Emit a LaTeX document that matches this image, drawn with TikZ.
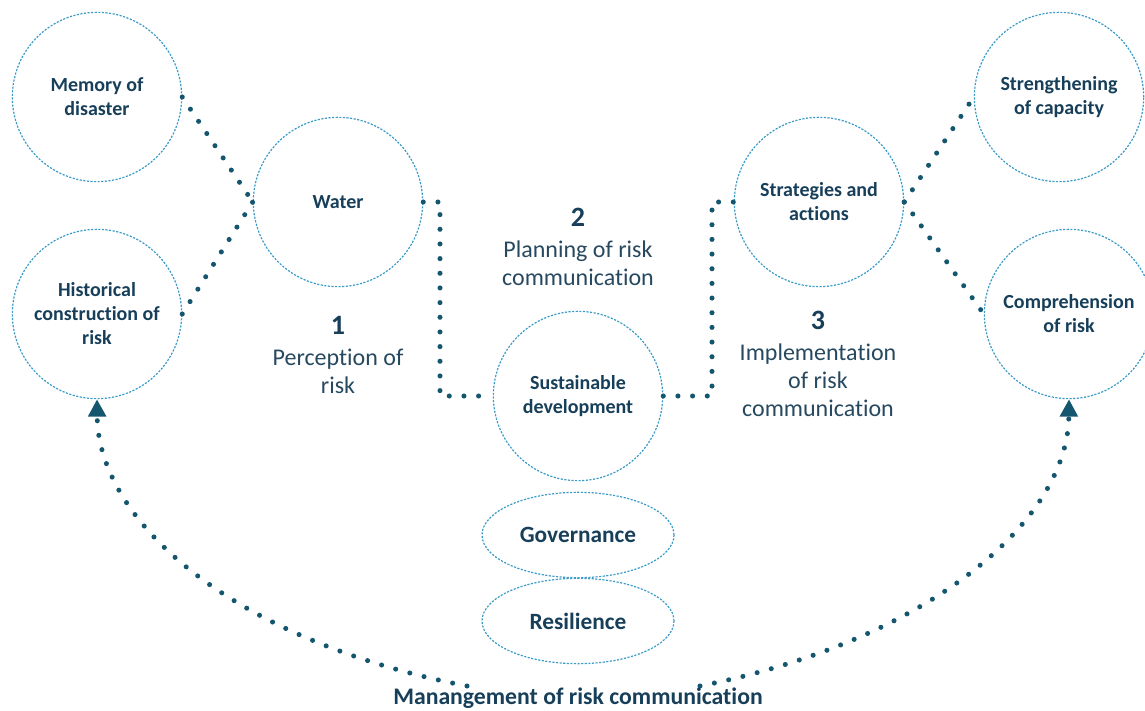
\documentclass[tikz,border=0pt]{standalone}
\usepackage{fontspec}
\setmainfont{Carlito}[Ligatures=NoCommon]
\usetikzlibrary{shapes.geometric,arrows.meta}
\definecolor{txt}{HTML}{173F5A}
\definecolor{dotc}{HTML}{15566F}
\definecolor{ring}{HTML}{3A9BC8}
\tikzset{
  circ/.style={circle, draw=ring, line width=0.9pt, dash pattern=on 1.6pt off 1.1pt,
    minimum size=127pt, inner sep=0pt, align=center, text=txt,
    font=\fontsize{15}{18}\selectfont\bfseries},
  ell/.style={ellipse, draw=ring, line width=0.9pt, dash pattern=on 1.6pt off 1.1pt,
    minimum width=144pt, minimum height=64pt, inner sep=0pt, text=txt,
    font=\fontsize{17.5}{20}\selectfont\bfseries},
  dotline/.style={draw=dotc, line width=3.8pt, line cap=round, dash pattern=on 0pt off 11pt},
  numlab/.style={text=txt, font=\fontsize{21}{24}\selectfont\bfseries},
  steplab/.style={text=txt!85!gray, align=center, font=\fontsize{18}{21}\selectfont},
  tip/.style={-{Triangle[length=13pt,width=13pt]}}
}
\begin{document}
\begin{tikzpicture}[x=0.75pt,y=-0.75pt]
\useasboundingbox (0,0) rectangle (1145,710);
% circles
\node[circ] (mem) at (97,97) {Memory of\\disaster};
\node[circ] (hist) at (97,314) {Historical\\construction of\\risk};
\node[circ] (water) at (338,202) {Water};
\node[circ] (sus) at (578,396) {Sustainable\\development};
\node[circ] (strat) at (819,202) {Strategies and\\actions};
\node[circ] (stren) at (1059,97) {Strengthening\\of capacity};
\node[circ] (comp) at (1069,314) {Comprehension\\of risk};
\node[ell] (gov) at (578,535) {Governance};
\node[ell] (res) at (578,621) {Resilience};
% step labels
\node[numlab] (n1) at (338,325) {1};
\node[steplab] (t1) at (338,371) {Perception of\\risk};
\node[numlab] (n2) at (578,217) {2};
\node[steplab] (t2) at (578,263) {Planning of risk\\communication};
\node[numlab] (n3) at (818,320) {3};
\node[steplab] (t3) at (818,380) {Implementation\\of risk\\communication};
\node[text=txt, font=\fontsize{17.8}{20}\selectfont\bfseries] (mgmt) at (578,698) {Manangement of risk communication};
% connectors
\coordinate (c1) at (440,202);
\coordinate (c2) at (712,202);
\draw[dotline] (mem.east) -- (water.west);
\draw[dotline] (hist.east) -- (water.west);
\draw[dotline] (water.east) -- (c1) |- (sus.west);
\draw[dotline] (sus.east) -| (c2) -- (strat.west);
\draw[dotline] (strat.east) -- (stren.west);
\draw[dotline] (strat.east) -- (comp.west);
% management arcs
\coordinate (L0) at (467,686);
\coordinate (R0) at (700,686);
\draw[dotline, tip] (L0) .. controls (230,640) and (98,520) .. (hist.south);
\draw[dotline, tip] (R0) .. controls (931,640) and (1068,520) .. (comp.south);
\end{tikzpicture}
\end{document}
